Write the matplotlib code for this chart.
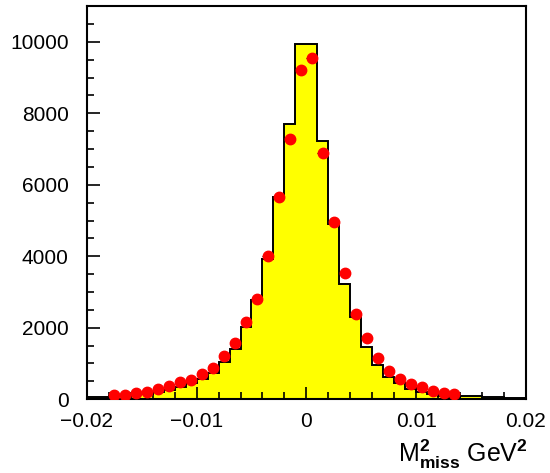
import numpy as np
import matplotlib
matplotlib.use("Agg")
import matplotlib.pyplot as plt
from matplotlib.ticker import MultipleLocator, FuncFormatter

plt.rcParams['font.family'] = ['Liberation Sans', 'DejaVu Sans']
plt.rcParams['mathtext.fontset'] = 'custom'
plt.rcParams['mathtext.rm'] = 'Liberation Sans'
plt.rcParams['mathtext.bf'] = 'Liberation Sans:bold'

# histogram (simulation), 40 bins of 0.001 from -0.02 to 0.02
bin_edges = np.linspace(-0.02, 0.02, 41)
mc_counts = [62, 62, 98, 98, 154, 154, 196, 255, 351, 445,
             558, 740, 1030, 1405, 2025, 2774, 3915, 5650, 7711, 9935,
             9935, 7234, 4905, 3223, 2290, 1470, 950, 623, 445, 296,
             193, 137, 90, 62, 90, 90, 65, 65, 40, 40]

# data points at bin centres
data_x = [-0.0175, -0.0165, -0.0155, -0.0145, -0.0135, -0.0125, -0.0115, -0.0105,
          -0.0095, -0.0085, -0.0075, -0.0065, -0.0055, -0.0045, -0.0035, -0.0025,
          -0.0015, -0.0005, 0.0005, 0.0015, 0.0025, 0.0035, 0.0045, 0.0055,
          0.0065, 0.0075, 0.0085, 0.0095, 0.0105, 0.0115, 0.0125, 0.0135]
data_y = [127, 118, 183, 202, 295, 380, 473, 539,
          693, 870, 1198, 1580, 2170, 2815, 4003, 5662,
          7279, 9215, 9551, 6887, 4952, 3535, 2381, 1712,
          1165, 790, 562, 426, 333, 230, 165, 137]

fig = plt.figure(figsize=(5.5, 4.73), dpi=100)
ax = fig.add_axes([0.158, 0.156, 0.798, 0.831])

ax.stairs(mc_counts, bin_edges, fill=True, color='#ffff00', zorder=1)
ax.stairs(mc_counts, bin_edges, color='black', linewidth=1.4, zorder=2)

ax.errorbar(data_x, data_y, xerr=0.0005, fmt='o', color='red', ms=7.5,
            mec='red', ecolor='black', elinewidth=0.8, capsize=0, zorder=3)

ax.set_xlim(-0.02, 0.02)
ax.set_ylim(0, 11000)

ax.xaxis.set_major_locator(MultipleLocator(0.01))
ax.xaxis.set_minor_locator(MultipleLocator(0.002))
ax.yaxis.set_major_locator(MultipleLocator(2000))
ax.yaxis.set_minor_locator(MultipleLocator(500))

def xfmt(v, pos):
    if abs(v) < 1e-9:
        return '0'
    return ('%g' % v).replace('-', '\u2212')
ax.xaxis.set_major_formatter(FuncFormatter(xfmt))

ax.tick_params(which='both', direction='in', top=False, right=False,
               labelsize=15, width=1.2)
ax.tick_params(which='major', length=9)
ax.tick_params(which='minor', length=5)
ax.tick_params(axis='y', which='major', pad=13)
ax.tick_params(axis='x', which='major', pad=9)

for s in ax.spines.values():
    s.set_linewidth(1.5)

fig.text(0.96, 1 - 462 / 473, r'M$^{\mathbf{2}}_{\mathbf{miss}}$ GeV$^{\mathbf{2}}$',
         ha='right', va='baseline', fontsize=18)

fig.savefig('out.png', dpi=100)
